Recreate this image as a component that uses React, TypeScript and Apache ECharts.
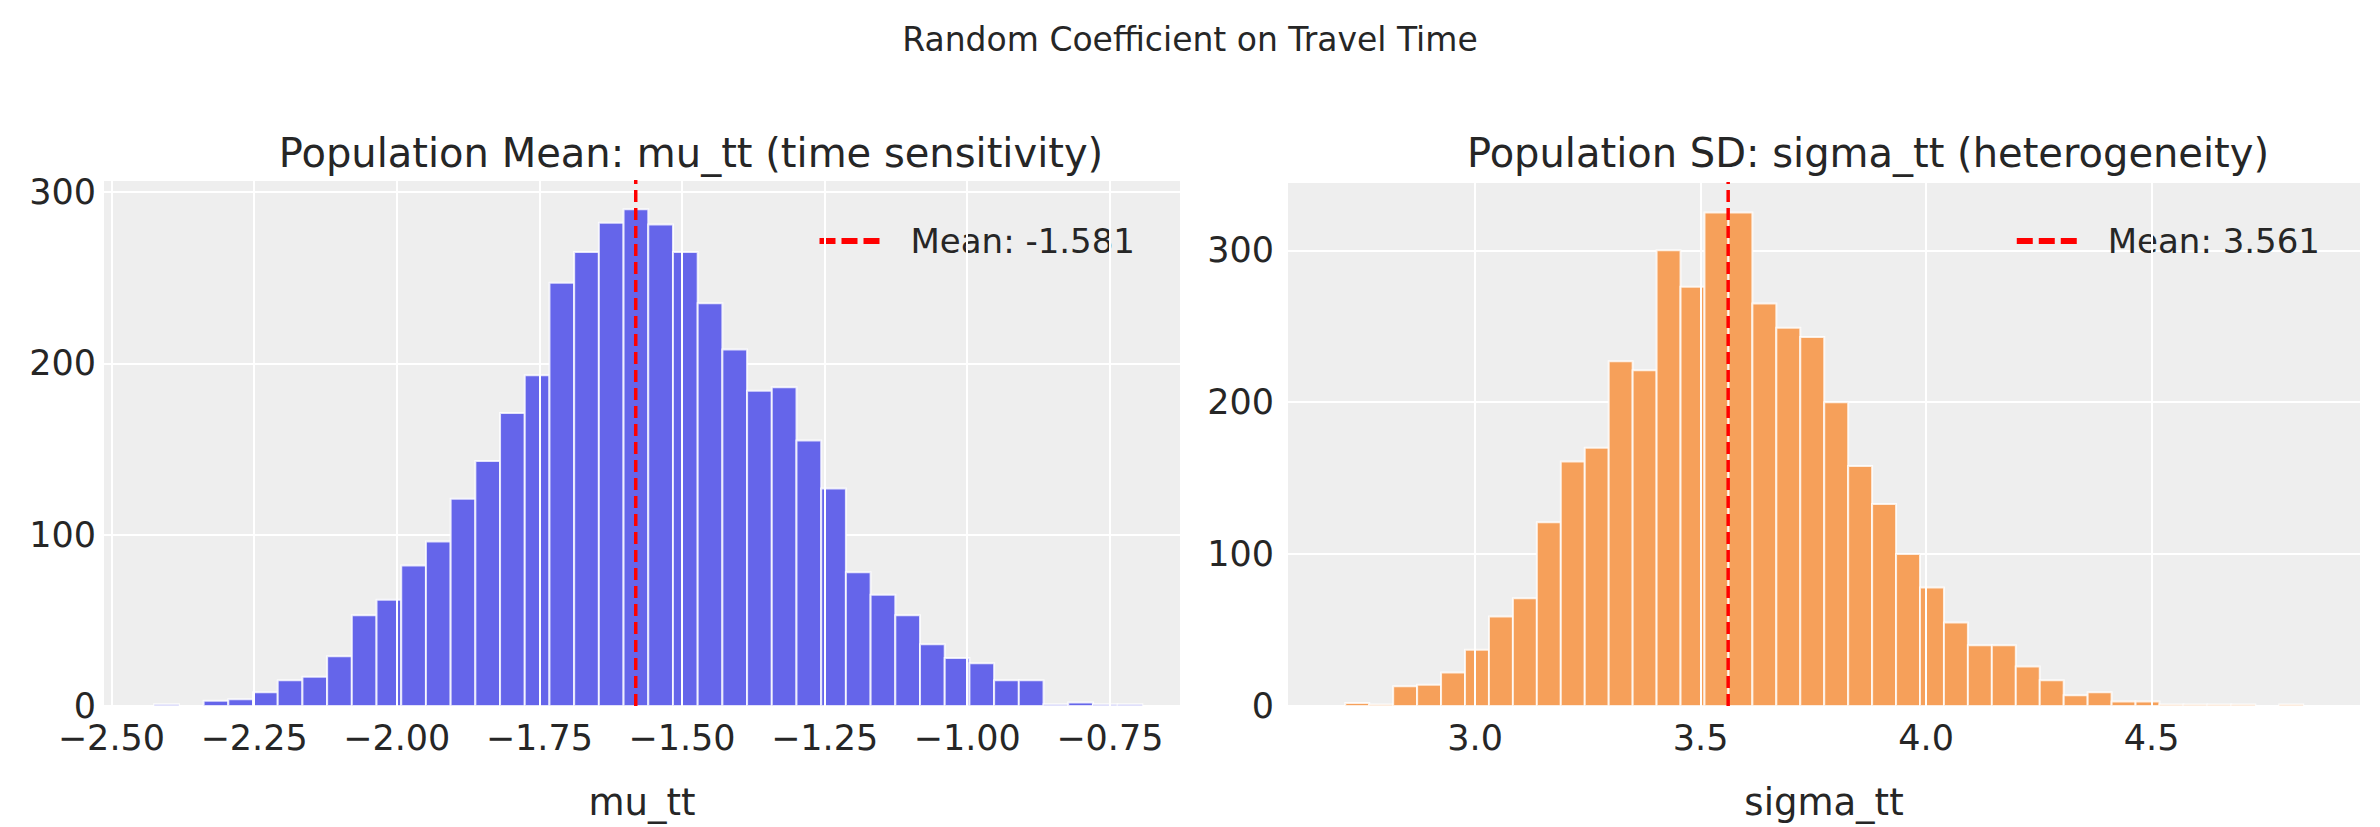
import { useEffect, useRef } from 'react'
import * as echarts from 'echarts'

// left panel: mu_tt histogram (bin edges start + i * width)
const muStart = -2.425
const muWidth = 0.0433
const muCounts = [1, 0, 3, 4, 8, 15, 17, 29, 53, 62, 82, 96, 121, 143, 171, 193, 247, 265, 282, 290, 281, 265, 235, 208, 184, 186, 155, 127, 78, 65, 53, 36, 28, 25, 15, 15, 1, 2, 1, 1]
const muMean = -1.581
const muTicks = [-2.5, -2.25, -2.0, -1.75, -1.5, -1.25, -1.0, -0.75]

// right panel: sigma_tt histogram
const sgStart = 2.712
const sgWidth = 0.0531
const sgCounts = [2, 1, 13, 14, 22, 37, 59, 71, 121, 161, 170, 227, 221, 300, 276, 325, 325, 265, 249, 243, 200, 158, 133, 100, 78, 55, 40, 40, 26, 17, 7, 9, 3, 3, 1, 1, 1, 1, 0, 1]
const sgMean = 3.561
const sgTicks = [3.0, 3.5, 4.0, 4.5]

const yTicks = [0, 100, 200, 300]

const FONT = 'DejaVu Sans'
const TXT = '#262626'
const DASH_ICON = 'path://M0,0h16v6H0z M22,0h16v6H22z M44,0h16v6H44z'

const fmt2 = (v: number) => (v < 0 ? '\u2212' + Math.abs(v).toFixed(2) : v.toFixed(2))

export default function App() {
  const main = useRef<HTMLDivElement>(null)
  useEffect(() => {
    const chart = echarts.init(main.current, null, { renderer: 'svg' })
    const hist = (start: number, width: number, counts: number[]) =>
      counts.map((c, i) => [start + i * width, start + (i + 1) * width, c])
    const renderBar = (color: string) => (params: any, api: any) => {
      const p0 = api.coord([api.value(0), api.value(2)])
      const p1 = api.coord([api.value(1), 0])
      return {
        type: 'rect',
        shape: { x: p0[0], y: p0[1], width: p1[0] - p0[0], height: p1[1] - p0[1] },
        style: { fill: color, stroke: 'rgba(255,255,255,0.8)', lineWidth: 2 },
      }
    }
    const gridLines = (xi: number, ticks: number[]) => ({
      type: 'line',
      xAxisIndex: xi,
      yAxisIndex: xi,
      data: [],
      silent: true,
      z: 1,
      markLine: {
        silent: true,
        symbol: 'none',
        label: { show: false },
        lineStyle: { color: '#ffffff', width: 2, type: 'solid' },
        data: ticks.map((t) => ({ xAxis: t })),
      },
    })
    const axisLabel = { fontFamily: FONT, fontSize: 35, color: TXT }
    const nameStyle = { fontFamily: FONT, fontSize: 37, color: TXT }
    const legendText = { fontFamily: FONT, fontSize: 34, color: TXT }
    const option = {
      animation: false,
      backgroundColor: '#ffffff',
      title: [
        { text: 'Random Coefficient on Travel Time', left: 'center', top: 18, textStyle: { fontFamily: FONT, fontSize: 33, fontWeight: 'normal', color: TXT } },
        { text: 'Population Mean: mu_tt (time sensitivity)', left: 686, textAlign: 'center', top: 128, textStyle: { fontFamily: FONT, fontSize: 40, fontWeight: 'normal', color: TXT } },
        { text: 'Population SD: sigma_tt (heterogeneity)', left: 1863, textAlign: 'center', top: 128, textStyle: { fontFamily: FONT, fontSize: 40, fontWeight: 'normal', color: TXT } },
      ],
      legend: [
        { data: [{ name: 'Mean: -1.581', icon: DASH_ICON }], right: 1240, top: 219, itemWidth: 60, itemHeight: 6, itemGap: 10, textStyle: { ...legendText, padding: [0, 0, 0, 26] } },
        { data: [{ name: 'Mean: 3.561', icon: DASH_ICON }], right: 55, top: 219, itemWidth: 60, itemHeight: 6, itemGap: 10, textStyle: { ...legendText, padding: [0, 0, 0, 26] } },
      ],
      grid: [
        { left: 104, width: 1076, top: 180, height: 526, show: true, backgroundColor: '#eeeeee', borderWidth: 0 },
        { left: 1288, width: 1072, top: 182, height: 524, show: true, backgroundColor: '#eeeeee', borderWidth: 0 },
      ],
      xAxis: [
        {
          type: 'value', gridIndex: 0, min: -2.513, max: -0.627,
          name: 'mu_tt', nameLocation: 'middle', nameGap: 78, nameTextStyle: nameStyle,
          axisLine: { show: false }, axisTick: { show: false }, splitLine: { show: false },
          axisLabel: { ...axisLabel, margin: 14, customValues: muTicks, formatter: fmt2 },
        },
        {
          type: 'value', gridIndex: 1, min: 2.585, max: 4.962,
          name: 'sigma_tt', nameLocation: 'middle', nameGap: 78, nameTextStyle: nameStyle,
          axisLine: { show: false }, axisTick: { show: false }, splitLine: { show: false },
          axisLabel: { ...axisLabel, margin: 14, customValues: sgTicks, formatter: (v: number) => v.toFixed(1) },
        },
      ],
      yAxis: [
        {
          type: 'value', gridIndex: 0, min: 0, max: 307, interval: 100,
          axisLine: { show: false }, axisTick: { show: false },
          splitLine: { lineStyle: { color: '#ffffff', width: 2 } },
          axisLabel: { ...axisLabel, margin: 8, customValues: yTicks },
        },
        {
          type: 'value', gridIndex: 1, min: 0, max: 345, interval: 100,
          axisLine: { show: false }, axisTick: { show: false },
          splitLine: { lineStyle: { color: '#ffffff', width: 2 } },
          axisLabel: { ...axisLabel, margin: 14, customValues: yTicks },
        },
      ],
      series: [
        gridLines(0, muTicks),
        gridLines(1, sgTicks),
        {
          type: 'custom', xAxisIndex: 0, yAxisIndex: 0, z: 3,
          renderItem: renderBar('#6565ea'),
          encode: { x: [0, 1], y: 2 },
          data: hist(muStart, muWidth, muCounts),
        },
        {
          type: 'custom', xAxisIndex: 1, yAxisIndex: 1, z: 3,
          renderItem: renderBar('#f6a05a'),
          encode: { x: [0, 1], y: 2 },
          data: hist(sgStart, sgWidth, sgCounts),
        },
        {
          name: 'Mean: -1.581', type: 'line', xAxisIndex: 0, yAxisIndex: 0, z: 5,
          symbol: 'none', color: '#ff0000',
          lineStyle: { color: '#ff0000', width: 3.5, type: [12, 6] },
          data: [[muMean, 0], [muMean, 307]],
        },
        {
          name: 'Mean: 3.561', type: 'line', xAxisIndex: 1, yAxisIndex: 1, z: 5,
          symbol: 'none', color: '#ff0000',
          lineStyle: { color: '#ff0000', width: 3.5, type: [12, 6] },
          data: [[sgMean, 0], [sgMean, 345]],
        },
      ],
    }
    chart.setOption(option)
    return () => {
      chart.dispose()
    }
  }, [])
  return <div ref={main} style={{ position: 'absolute', left: 0, top: 0, width: '2380px', height: '827px' }}></div>
}
